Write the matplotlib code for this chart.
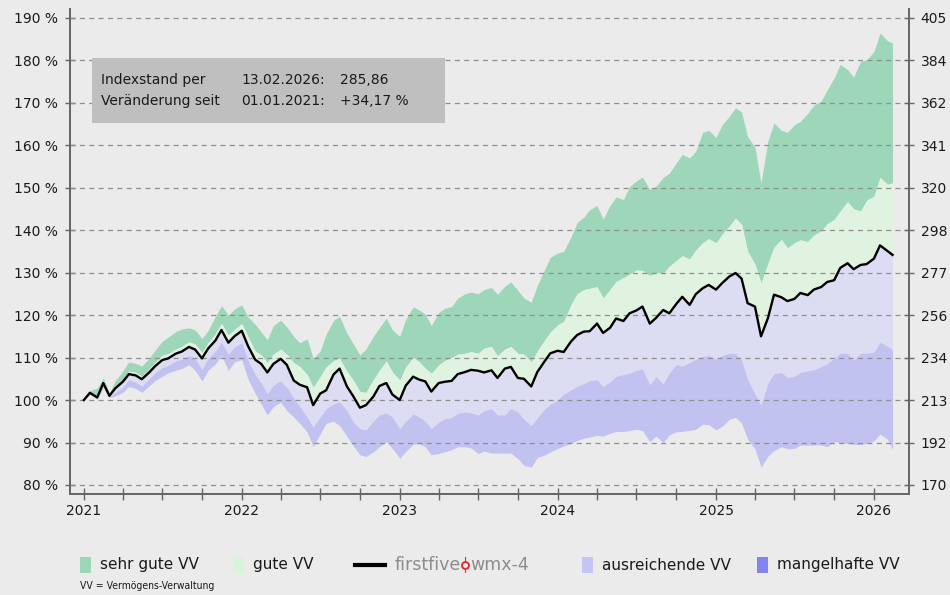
import numpy as np
import pandas as pd
import matplotlib
matplotlib.use("Agg")
import matplotlib.pyplot as plt
import matplotlib.dates as mdates
from matplotlib.patches import Rectangle
from matplotlib.lines import Line2D

# semi-monthly sampling, last point = 13.02.2026
dates = list(pd.date_range("2021-01-01", "2026-02-01", freq="SMS")) + [pd.Timestamp("2026-02-13")]

# index line (in % of 01.01.2021)
wmx = [100.0, 101.7, 100.6, 104.0, 101.0, 102.8, 104.3, 106.1, 105.8, 104.9, 106.5, 108.0,
       109.4, 109.8, 110.9, 111.4, 112.5, 111.9, 109.8, 112.1, 114.0, 116.5, 113.5, 115.0,
       116.3, 112.8, 109.5, 108.5, 106.5, 108.5, 109.7, 108.3, 104.6, 103.6, 103.0, 98.8,
       101.5, 102.3, 106.0, 107.4, 103.2, 101.0, 98.2, 98.8, 100.8, 103.3, 104.0, 101.3,
       100.0, 103.4, 105.5, 104.8, 104.4, 102.0, 104.0, 104.3, 104.5, 106.1, 106.6, 107.1,
       106.9, 106.5, 107.0, 105.2, 107.4, 107.8, 105.2, 105.0, 103.2, 106.6, 109.0, 111.0,
       111.6, 111.3, 113.8, 115.3, 116.1, 116.2, 118.0, 115.8, 117.0, 119.2, 118.6, 120.4,
       121.1, 122.0, 118.0, 119.3, 121.2, 120.4, 122.6, 124.3, 122.4, 124.9, 126.3, 127.1,
       126.0, 127.5, 129.1, 129.9, 128.6, 122.8, 122.0, 115.0, 119.3, 124.8, 124.2, 123.3,
       123.8, 125.2, 124.7, 126.0, 126.6, 127.8, 128.2, 131.1, 132.2, 130.8, 131.8, 132.0,
       133.3, 136.4, 135.1, 134.17]

# top of "sehr gute VV"
upper = [100.0, 102.2, 102.8, 105.2, 101.6, 104.6, 106.8, 109.0, 108.6, 108.0, 109.8, 111.8,
         113.8, 114.8, 116.1, 116.7, 117.0, 116.5, 114.5, 116.3, 119.7, 122.2, 120.0, 121.4,
         122.4, 119.6, 117.8, 116.0, 114.2, 117.5, 118.8, 117.2, 115.0, 113.5, 114.4, 109.8,
         111.5, 115.5, 118.7, 119.7, 115.7, 113.4, 110.6, 112.0, 115.0, 117.0, 119.3, 116.5,
         115.0, 119.0, 121.9, 121.2, 120.2, 117.5, 120.6, 121.6, 122.0, 124.0, 125.0, 125.4,
         125.0, 126.0, 126.5, 124.9, 126.8, 127.8, 125.8, 124.0, 123.0, 127.0, 130.5, 133.6,
         134.6, 135.0, 138.4, 141.8, 143.0, 144.8, 145.8, 142.6, 145.8, 147.8, 147.2, 150.2,
         151.6, 152.5, 149.5, 150.3, 152.4, 153.4, 155.8, 157.8, 157.0, 158.5, 163.0, 163.5,
         161.8, 164.8, 166.8, 168.8, 167.8, 162.0, 159.5, 151.0, 161.0, 165.2, 163.5, 163.0,
         164.8, 165.6, 167.5, 169.4, 170.4, 173.0, 175.8, 179.0, 177.8, 176.0, 179.7, 180.1,
         182.0, 186.4, 184.6, 184.0]

# border sehr gute / gute
q75 = [100.0, 101.9, 101.0, 104.6, 101.2, 103.3, 105.0, 106.8, 106.5, 105.6, 107.3, 108.9,
       110.5, 110.9, 112.0, 112.6, 113.7, 113.2, 111.2, 113.5, 115.6, 118.0, 115.3, 116.6,
       118.0, 115.0, 111.5, 110.6, 108.8, 110.8, 112.0, 110.8, 108.8, 107.9, 106.0, 103.0,
       105.5, 107.8, 109.3, 109.8, 106.7, 104.8, 102.0, 101.8, 104.8, 107.0, 109.2, 106.6,
       104.7, 107.8, 110.0, 109.0, 107.5, 106.3, 108.2, 109.3, 110.0, 110.8, 111.0, 111.4,
       111.0, 112.2, 112.6, 110.4, 112.0, 112.6, 111.0, 110.8, 109.0, 111.5, 114.0, 116.0,
       117.7, 118.5, 122.5, 125.0, 126.0, 126.3, 126.7, 124.0, 126.0, 127.9, 128.8, 129.6,
       130.6, 130.5, 129.3, 130.0, 129.8, 131.5, 132.8, 134.0, 133.2, 135.3, 137.0, 138.0,
       137.0, 139.0, 141.0, 142.8, 141.4, 135.0, 132.0, 127.5, 132.2, 136.0, 137.8, 135.8,
       137.0, 137.7, 137.3, 138.8, 139.8, 141.5, 142.5, 144.5, 146.7, 145.0, 144.5, 147.0,
       148.0, 152.4, 150.8, 151.1]

# border ausreichende / mangelhafte
q25 = [100.0, 101.5, 100.4, 103.5, 100.8, 101.8, 103.0, 104.8, 104.2, 103.3, 105.0, 106.5,
       107.6, 108.2, 109.2, 109.6, 110.5, 109.8, 107.2, 109.8, 111.5, 113.6, 110.8, 112.5,
       113.5, 109.5, 106.0, 104.0, 101.5, 103.5, 104.5, 103.0, 100.5, 98.5, 96.0, 93.7,
       96.0, 98.0, 99.1, 99.6, 97.5, 95.0, 93.3, 93.0, 95.0, 96.5, 97.0, 96.0,
       93.3, 95.0, 96.7, 96.0, 95.0, 93.3, 94.8, 95.6, 95.9, 96.9, 97.2, 97.0,
       96.5, 97.5, 98.0, 96.5, 96.5, 98.0, 97.2, 95.5, 94.0, 95.8, 97.8, 99.0,
       100.0, 101.4, 102.4, 103.2, 103.9, 104.6, 104.8, 103.2, 104.3, 105.6, 106.0, 106.3,
       107.0, 107.3, 103.6, 105.5, 103.8, 106.3, 108.4, 108.0, 108.8, 109.6, 110.2, 110.6,
       109.6, 110.5, 111.0, 111.0, 109.4, 104.8, 101.5, 98.8, 104.0, 106.2, 106.5, 105.3,
       105.6, 106.5, 106.9, 107.1, 107.9, 108.6, 109.8, 111.0, 111.0, 109.4, 111.0, 111.0,
       111.3, 113.6, 112.7, 111.8]

# bottom of "mangelhafte VV"
lower = [100.0, 101.3, 100.2, 103.0, 100.6, 101.0, 101.8, 103.2, 102.7, 101.8, 103.4, 104.6,
         105.6, 106.4, 107.0, 107.4, 108.3, 107.0, 104.5, 107.0, 108.5, 110.5, 107.0, 109.0,
         109.5, 105.0, 101.5, 99.0, 96.5, 98.5, 99.5, 97.5, 96.0, 94.5, 92.5, 89.0,
         92.0, 94.5, 95.0, 94.0, 91.5, 89.3, 87.1, 86.7, 87.8, 89.0, 90.2, 88.6,
         86.3, 87.9, 89.6, 89.7, 89.0, 87.1, 87.4, 87.8, 88.3, 89.0, 89.0, 88.7,
         87.4, 88.0, 87.5, 87.5, 87.5, 87.5, 86.2, 84.6, 84.2, 86.5, 87.0, 87.8,
         88.6, 89.2, 89.8, 90.5, 91.0, 91.3, 91.7, 91.5, 92.2, 92.6, 92.6, 92.8,
         93.1, 92.8, 90.2, 91.5, 90.0, 91.8, 92.5, 92.6, 92.9, 93.1, 94.3, 94.2,
         93.0, 93.8, 95.5, 95.9, 94.6, 90.8, 88.5, 84.2, 86.8, 88.1, 89.0, 88.5,
         88.6, 89.4, 89.4, 89.4, 89.4, 89.0, 90.2, 90.0, 89.8, 89.6, 89.5, 89.8,
         90.4, 92.0, 90.8, 88.4]

pct_ticks = [80, 90, 100, 110, 120, 130, 140, 150, 160, 170, 180, 190]
right_labels = ["170", "192", "213", "234", "256", "277", "298", "320", "341", "362", "384", "405"]

bg = "#ebebeb"
c_sehrgut = "#9dd6b9"
c_gut = "#e0f3e0"
c_ausr = "#dcdcf3"
c_mangel = "#c2c2f1"
txt = "#1a1a1a"
spine_c = "#666666"

W, H = 950, 595
fig = plt.figure(figsize=(9.5, 5.95), dpi=100, facecolor=bg)
ax = fig.add_axes([70 / W, 101 / H, 839 / W, 485 / H])
ax.set_facecolor(bg)

x = np.array(dates, dtype="datetime64[ns]")
ax.fill_between(x, q75, upper, color=c_sehrgut, lw=0, zorder=1)
ax.fill_between(x, wmx, q75, color=c_gut, lw=0, zorder=1)
ax.fill_between(x, q25, wmx, color=c_ausr, lw=0, zorder=1)
ax.fill_between(x, lower, q25, color=c_mangel, lw=0, zorder=1)

for v in pct_ticks:
    ax.axhline(v, color="#8f8f8f", lw=0.9, ls=(0, (4, 3.5)), zorder=2)

ax.plot(x, wmx, color="black", lw=1.7, zorder=3)

ax.set_xlim(pd.Timestamp("2020-11-30"), pd.Timestamp("2026-03-23"))
ax.set_ylim(77.88, 192.05)
ax.xaxis.set_major_locator(mdates.YearLocator())
ax.xaxis.set_major_formatter(mdates.DateFormatter("%Y"))
ax.xaxis.set_minor_locator(mdates.MonthLocator(bymonth=[4, 7, 10]))
ax.set_yticks(pct_ticks)
ax.set_yticklabels([f"{v} %" for v in pct_ticks])

ax2 = ax.twinx()
ax2.set_ylim(ax.get_ylim())
ax2.set_yticks(pct_ticks)
ax2.set_yticklabels(right_labels)

for a in (ax, ax2):
    a.spines["top"].set_visible(False)
    for s in ("left", "right", "bottom"):
        a.spines[s].set_color(spine_c)
        a.spines[s].set_linewidth(1.3)
ax.tick_params(axis="y", direction="inout", length=7, width=1, color=spine_c,
               labelsize=10, labelcolor=txt, pad=5)
ax2.tick_params(axis="y", direction="inout", length=7, width=1, color=spine_c,
                labelsize=10, labelcolor=txt, pad=5)
ax.tick_params(axis="x", which="both", direction="inout", length=8.5, width=1,
               color=spine_c, labelsize=10, labelcolor=txt, pad=3)

# info box
fig.add_artist(Rectangle((92 / W, 1 - 123 / H), 353 / W, 65 / H, transform=fig.transFigure,
                         facecolor="#bfbfbf", edgecolor="none", zorder=5))
rows = [("Indexstand per", "13.02.2026:", "285,86"),
        ("Veränderung seit", "01.01.2021:", "+34,17 %")]
for i, (a_, b_, c_) in enumerate(rows):
    yy = 1 - (80 + 21 * i) / H
    fig.text(101 / W, yy, a_, fontsize=10, color=txt, va="center", zorder=6)
    fig.text(241 / W, yy, b_, fontsize=10, color=txt, va="center", zorder=6)
    fig.text(340 / W, yy, c_, fontsize=10, color=txt, va="center", zorder=6)

# legend
ly = 1 - 565 / H
ph = 16 / H
pw = 11 / W
for xp, col, lab in [(80, c_sehrgut, "sehr gute VV"), (233, "#d6f5d6", "gute VV"),
                     (582, "#c4c4f5", "ausreichende VV"), (757, "#8484f0", "mangelhafte VV")]:
    fig.add_artist(Rectangle((xp / W, ly - ph / 2), pw, ph, transform=fig.transFigure,
                             facecolor=col, edgecolor="none"))
    fig.text((xp + 20) / W, ly, lab, fontsize=11, color=txt, va="center")
fig.add_artist(Line2D([355 / W, 385 / W], [ly, ly], color="black", lw=3,
                      transform=fig.transFigure))
t1 = fig.text(395 / W, ly, "firstfive", fontsize=12.5, color="#8c8c8c", va="center")
r = fig.canvas.get_renderer()
x_end = t1.get_window_extent(r).x1
xi = x_end + 4
fig.add_artist(Line2D([xi / W, xi / W], [ly - 7 / H, ly + 8 / H], color="#e03030",
                      lw=0.8, transform=fig.transFigure))
fig.add_artist(Line2D([xi / W], [ly + 0.5 / H], marker="o", ms=5, mfc=bg, mec="#e03030",
                      mew=1.4, transform=fig.transFigure))
fig.text((xi + 5) / W, ly, "wmx-4", fontsize=12.5, color="#8c8c8c", va="center")
fig.text(80 / W, 1 - 586 / H, "VV = Vermögens-Verwaltung", fontsize=7.5, color=txt,
         va="center", fontstretch="condensed")

fig.savefig("out.png", dpi=100, facecolor=bg)
